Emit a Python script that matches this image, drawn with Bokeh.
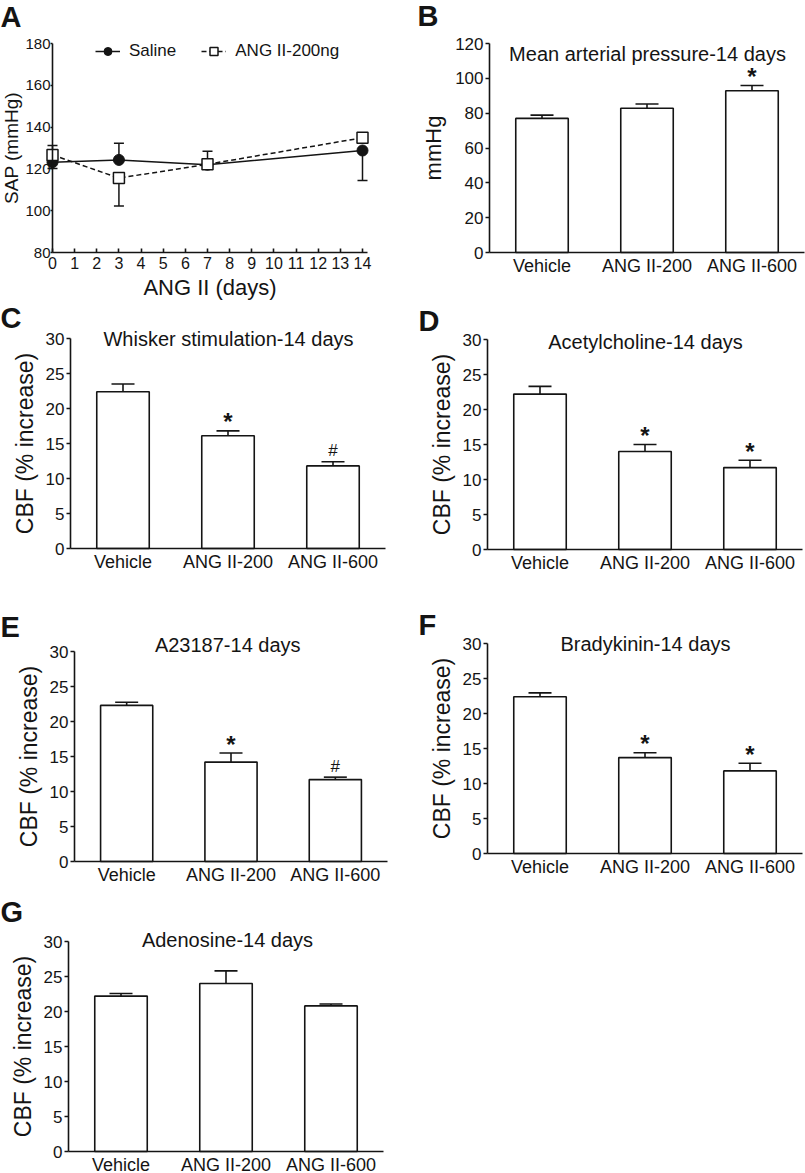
from bokeh.plotting import figure
from bokeh.models import (Range1d, Whisker, TeeHead, ColumnDataSource,
                          Label, Legend, LegendItem, FixedTicker)
from bokeh.layouts import row, column
from bokeh.embed import file_html
from bokeh.resources import INLINE
from bokeh.core.properties import value

FONT = "Liberation Sans"
INK = "#141414"
LW = 1.6

# ---------------- data ----------------
days = [0, 3, 7, 14]
day_ticks = list(range(15))
saline_sap = [123.2, 124.3, 122.0, 128.8]
saline_err_up = [0.0, 8.0, 6.5, 0.0]
saline_err_down = [3.0, 0.0, 0.0, 14.4]
ang200_sap = [126.7, 115.6, 122.2, 134.9]
ang200_err_up = [4.5, 0.0, 0.0, 0.0]
ang200_err_down = [0.0, 13.4, 0.0, 0.0]
sap_ticks = [80, 100, 120, 140, 160, 180]

groups = ["Vehicle", "ANG II-200", "ANG II-600"]
map_mean = [77.0, 82.8, 92.9]
map_sem = [1.9, 2.5, 3.0]
map_sig = ["", "", "*"]
map_ticks = [0, 20, 40, 60, 80, 100, 120]

cbf_ticks = [0, 5, 10, 15, 20, 25, 30]
whisker_mean = [22.4, 16.1, 11.8]
whisker_sem = [1.1, 0.7, 0.6]
whisker_sig = ["", "*", "#"]
ach_mean = [22.2, 14.0, 11.7]
ach_sem = [1.1, 1.0, 1.05]
ach_sig = ["", "*", "*"]
a23187_mean = [22.3, 14.2, 11.7]
a23187_sem = [0.45, 1.3, 0.35]
a23187_sig = ["", "*", "#"]
brady_mean = [22.4, 13.7, 11.8]
brady_sem = [0.55, 0.7, 1.1]
brady_sig = ["", "*", "*"]
adeno_mean = [22.2, 24.0, 20.8]
adeno_sem = [0.38, 1.8, 0.28]
adeno_sig = ["", "", ""]


# ---------------- helpers ----------------
def panel_fig(geom, axis_x, px_per_x, axis_y, px_per_y, ymin):
    """Figure whose frame fills its whole canvas; axes are placed at fixed data locations."""
    x0, y0, W, H = geom
    xs = -(axis_x - x0) / px_per_x
    ys = ymin - (y0 + H - axis_y) / px_per_y
    p = figure(x_range=Range1d(xs, xs + W / px_per_x), y_range=Range1d(ys, ys + H / px_per_y),
               frame_width=W, frame_height=H,
               min_border_left=0, min_border_right=0, min_border_top=0, min_border_bottom=0,
               output_backend="svg", toolbar_location=None, tools="")
    p.xgrid.visible = False
    p.ygrid.visible = False
    p.outline_line_color = None
    p.background_fill_color = "white"
    p.border_fill_color = "white"
    for ax in [p.xaxis[0], p.yaxis[0]]:
        ax.axis_line_color = INK
        ax.axis_line_width = LW
        ax.major_tick_line_color = INK
        ax.major_tick_line_width = LW
        ax.minor_tick_line_color = None
        ax.major_label_text_font = FONT
        ax.major_label_text_color = INK
        ax.axis_label_text_font = FONT
        ax.axis_label_text_font_style = "normal"
        ax.axis_label_text_color = INK
    return p


def page_label(p, geom, px, py, text, **kw):
    x0, y0, W, H = geom
    p.add_layout(Label(x=px - x0, y=(y0 + H) - py, x_units="screen", y_units="screen",
                       text=text, text_font=FONT, text_color=INK, **kw))


def add_letter(p, geom, px, py, letter):
    page_label(p, geom, px, py, letter, text_align="left", text_baseline="middle",
               text_font_size="29px", text_font_style="bold")


def add_title(p, geom, px, py, title):
    page_label(p, geom, px, py, title, text_align="center", text_baseline="middle",
               text_font_size="20px")


xpos = [i + 0.5 for i in range(len(groups))]


def bar_panel(geom, axis_x, axis_right, axis_y, axis_top, letter, letter_xy, title, title_xy,
              means, sems, sigs, ticks, ylabel, ylabel_px, ylab_standoff):
    px_x = (axis_right - axis_x) / len(groups)
    px_y = (axis_y - axis_top) / (ticks[-1] - ticks[0])
    p = panel_fig(geom, axis_x, px_x, axis_y, px_y, ticks[0])
    tops = [m + s for m, s in zip(means, sems)]
    src = ColumnDataSource(data=dict(x=xpos, mean=means, top=tops))
    p.vbar(x="x", top="mean", bottom=0, width=0.5, source=src,
           fill_color="white", line_color=INK, line_width=LW)
    p.add_layout(Whisker(base="x", lower="mean", upper="top", source=src, dimension="height",
                         line_color=INK, line_width=LW, lower_head=None,
                         upper_head=TeeHead(size=23, line_color=INK, line_width=LW)))
    star_x = [x for x, s in zip(xpos, sigs) if s == "*"]
    star_y = [t for t, s in zip(tops, sigs) if s == "*"]
    if star_x:
        p.text(x=star_x, y=star_y, text=["*"] * len(star_x), text_align="center",
               text_baseline="alphabetic", y_offset=-9, text_font=value(FONT),
               text_font_size="24px", text_font_style="bold", text_color=INK)
    hash_x = [x for x, s in zip(xpos, sigs) if s == "#"]
    hash_y = [t for t, s in zip(tops, sigs) if s == "#"]
    if hash_x:
        p.text(x=hash_x, y=hash_y, text=["#"] * len(hash_x), text_align="center",
               text_baseline="alphabetic", y_offset=-11, text_font=value(FONT),
               text_font_size="17px", text_color=INK)
    xa, ya = p.xaxis[0], p.yaxis[0]
    xa.fixed_location = ticks[0]
    xa.bounds = (0, len(groups))
    xa.ticker = FixedTicker(ticks=xpos)
    xa.major_label_overrides = {x: g for x, g in zip(xpos, groups)}
    xa.major_tick_line_color = None
    xa.major_tick_in = 0
    xa.major_tick_out = 0
    xa.major_label_standoff = 3
    xa.major_label_text_font_size = "18px"
    ya.fixed_location = 0
    ya.bounds = (ticks[0], ticks[-1])
    ya.ticker = FixedTicker(ticks=ticks)
    ya.major_tick_in = 0
    ya.major_tick_out = 4
    ya.major_label_standoff = 2
    ya.major_label_text_font_size = "17px"
    ya.axis_label = ylabel
    ya.axis_label_text_font_size = ylabel_px
    ya.axis_label_standoff = ylab_standoff
    add_title(p, geom, title_xy[0], title_xy[1], title)
    add_letter(p, geom, letter_xy[0], letter_xy[1], letter)
    return p


# ---------------- panel A ----------------
geomA = (0, 0, 400, 301)
pA = panel_fig(geomA, 52, 310 / 14, 252, 209 / 100, 80)


def add_err(p, xs, ys, ups, downs):
    xu = [x for x, u in zip(xs, ups) if u > 0]
    if xu:
        src = ColumnDataSource(data=dict(x=xu, lo=[y for y, u in zip(ys, ups) if u > 0],
                                         hi=[y + u for y, u in zip(ys, ups) if u > 0]))
        p.add_layout(Whisker(base="x", lower="lo", upper="hi", source=src, dimension="height",
                             line_color=INK, line_width=1.5, lower_head=None, level="underlay",
                             upper_head=TeeHead(size=10, line_color=INK, line_width=1.5)))
    xd = [x for x, d in zip(xs, downs) if d > 0]
    if xd:
        src = ColumnDataSource(data=dict(x=xd, hi=[y for y, d in zip(ys, downs) if d > 0],
                                         lo=[y - d for y, d in zip(ys, downs) if d > 0]))
        p.add_layout(Whisker(base="x", lower="lo", upper="hi", source=src, dimension="height",
                             line_color=INK, line_width=1.5, upper_head=None, level="underlay",
                             lower_head=TeeHead(size=10, line_color=INK, line_width=1.5)))


add_err(pA, days, saline_sap, saline_err_up, saline_err_down)
add_err(pA, days, ang200_sap, ang200_err_up, ang200_err_down)
sal_line = pA.line(days, saline_sap, line_color=INK, line_width=1.5)
ang_line = pA.line(days, ang200_sap, line_color=INK, line_width=1.5, line_dash="5 3")
sal_pts = pA.scatter(days, saline_sap, marker="circle", size=11, fill_color=INK, line_color=INK)
ang_pts = pA.scatter(days, ang200_sap, marker="square", size=11, fill_color="white",
                     line_color=INK, line_width=1.5)

xa, ya = pA.xaxis[0], pA.yaxis[0]
xa.fixed_location = 80
xa.bounds = (0, 14.23)
xa.ticker = FixedTicker(ticks=day_ticks)
xa.major_tick_in = 4
xa.major_tick_out = 0
xa.major_label_standoff = 4
xa.major_label_text_font_size = "16px"
xa.axis_label = "ANG II (days)"
xa.axis_label_text_font_size = "22px"
xa.axis_label_standoff = 3
ya.fixed_location = 0
ya.bounds = (80, 180)
ya.ticker = FixedTicker(ticks=sap_ticks)
ya.major_tick_in = 0
ya.major_tick_out = 2
ya.major_label_standoff = 0
ya.major_label_text_font_size = "15px"
ya.axis_label = "SAP (mmHg)"
ya.axis_label_text_font_size = "19px"
ya.axis_label_standoff = 0

leg = Legend(items=[LegendItem(label="Saline", renderers=[sal_line, sal_pts]),
                    LegendItem(label="ANG II-200ng", renderers=[ang_line, ang_pts])],
             orientation="horizontal", location=(95, 240), padding=0, margin=0, spacing=25,
             glyph_width=25, glyph_height=20, label_standoff=9,
             label_text_font=FONT, label_text_font_size="17px", label_text_color=INK,
             border_line_color=None, background_fill_alpha=0)
pA.add_layout(leg)
add_letter(pA, geomA, 0, 16, "A")

# ---------------- bar panels ----------------
pB = bar_panel((400, 0, 405, 301), 489, 804, 252, 43, "B", (417, 15),
               "Mean arterial pressure-14 days", (647, 53),
               map_mean, map_sem, map_sig, map_ticks, "mmHg", "22px", 6)
pC = bar_panel((0, 301, 400, 277), 70, 385, 548, 338, "C", (0, 317),
               "Whisker stimulation-14 days", (228, 338),
               whisker_mean, whisker_sem, whisker_sig, cbf_ticks, "CBF (% increase)", "23px", 5)
pD = bar_panel((400, 301, 405, 277), 487, 802, 549, 339, "D", (418, 320),
               "Acetylcholine-14 days", (645, 341),
               ach_mean, ach_sem, ach_sig, cbf_ticks, "CBF (% increase)", "23px", 5)
pE = bar_panel((0, 578, 400, 308), 74, 387, 861, 651, "E", (0, 626),
               "A23187-14  days", (230, 644),
               a23187_mean, a23187_sem, a23187_sig, cbf_ticks, "CBF (% increase)", "23px", 5)
pF = bar_panel((400, 578, 405, 308), 487, 802, 853, 643, "F", (418, 624),
               "Bradykinin-14 days", (645, 643),
               brady_mean, brady_sem, brady_sig, cbf_ticks, "CBF (% increase)", "23px", 5)
pG = bar_panel((0, 886, 400, 287), 68, 383, 1151, 941, "G", (0, 911),
               "Adenosine-14 days", (227, 939),
               adeno_mean, adeno_sem, adeno_sig, cbf_ticks, "CBF (% increase)", "23px", 5)

layout = column(row(pA, pB), row(pC, pD), row(pE, pF), row(pG))

open("out.html", "w").write(file_html(layout, INLINE))
